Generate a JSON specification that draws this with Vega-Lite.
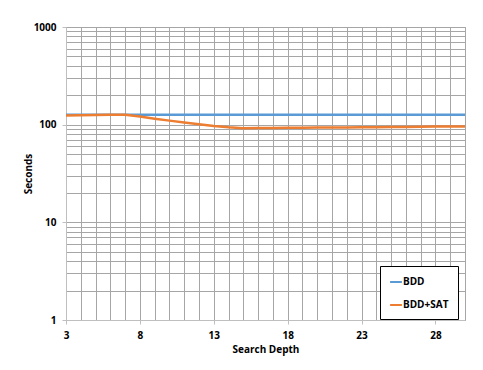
{
  "$schema": "https://vega.github.io/schema/vega-lite/v6.json",
  "width": 399,
  "height": 293,
  "autosize": {"type": "none"},
  "padding": {"left": 66, "top": 27, "right": 18, "bottom": 50},
  "background": "white",
  "config": {
    "view": {"stroke": "#a6a6a6", "strokeWidth": 1},
    "font": "Open Sans",
    "axis": {
      "labelFont": "Open Sans",
      "labelFontWeight": "bold",
      "labelFontSize": 10,
      "labelColor": "#000000",
      "titleFont": "Open Sans",
      "titleFontWeight": "bold",
      "titleFontSize": 10,
      "titleColor": "#000000",
      "gridColor": "#a6a6a6",
      "gridOpacity": 1,
      "gridWidth": 1,
      "domainColor": "#bfbfbf",
      "tickColor": "#bfbfbf"
    }
  },
  "data": {
    "values": [
      {"series": "BDD", "depth": 3, "seconds": 126},
      {"series": "BDD", "depth": 30, "seconds": 126},
      {"series": "BDD+SAT", "depth": 3, "seconds": 124},
      {"series": "BDD+SAT", "depth": 4, "seconds": 125},
      {"series": "BDD+SAT", "depth": 5, "seconds": 125.5},
      {"series": "BDD+SAT", "depth": 6, "seconds": 126},
      {"series": "BDD+SAT", "depth": 7, "seconds": 126.5},
      {"series": "BDD+SAT", "depth": 8, "seconds": 121},
      {"series": "BDD+SAT", "depth": 9, "seconds": 115},
      {"series": "BDD+SAT", "depth": 10, "seconds": 110},
      {"series": "BDD+SAT", "depth": 11, "seconds": 105},
      {"series": "BDD+SAT", "depth": 12, "seconds": 101},
      {"series": "BDD+SAT", "depth": 13, "seconds": 97},
      {"series": "BDD+SAT", "depth": 14, "seconds": 94},
      {"series": "BDD+SAT", "depth": 15, "seconds": 92},
      {"series": "BDD+SAT", "depth": 16, "seconds": 92.2},
      {"series": "BDD+SAT", "depth": 17, "seconds": 92.5},
      {"series": "BDD+SAT", "depth": 18, "seconds": 92.8},
      {"series": "BDD+SAT", "depth": 19, "seconds": 93},
      {"series": "BDD+SAT", "depth": 20, "seconds": 93.3},
      {"series": "BDD+SAT", "depth": 21, "seconds": 93.5},
      {"series": "BDD+SAT", "depth": 22, "seconds": 93.8},
      {"series": "BDD+SAT", "depth": 23, "seconds": 94},
      {"series": "BDD+SAT", "depth": 24, "seconds": 94.3},
      {"series": "BDD+SAT", "depth": 25, "seconds": 94.6},
      {"series": "BDD+SAT", "depth": 26, "seconds": 94.9},
      {"series": "BDD+SAT", "depth": 27, "seconds": 95.2},
      {"series": "BDD+SAT", "depth": 28, "seconds": 95.5},
      {"series": "BDD+SAT", "depth": 29, "seconds": 95.8},
      {"series": "BDD+SAT", "depth": 30, "seconds": 96}
    ]
  },
  "mark": {"type": "line", "strokeWidth": 2.5, "interpolate": "linear"},
  "encoding": {
    "x": {
      "field": "depth",
      "type": "quantitative",
      "scale": {"domain": [3, 30], "nice": false, "zero": false},
      "axis": {
        "title": "Search Depth",
        "titlePadding": 4,
        "values": [3,4,5,6,7,8,9,10,11,12,13,14,15,16,17,18,19,20,21,22,23,24,25,26,27,28,29,30],
        "labelExpr": "(datum.value - 3) % 5 == 0 && datum.value < 30 ? datum.label : ''",
        "tickSize": 4,
        "tickOpacity": {"condition": {"test": "(datum.value - 3) % 5 == 0", "value": 1}, "value": 0},
        "labelPadding": 6,
        "labelFlush": false,
        "labelOverlap": false
      }
    },
    "y": {
      "field": "seconds",
      "type": "quantitative",
      "scale": {"type": "log", "domain": [1, 1000], "nice": false},
      "axis": {
        "title": "Seconds",
        "titlePadding": 0,
        "values": [1,2,3,4,5,6,7,8,9,10,20,30,40,50,60,70,80,90,100,200,300,400,500,600,700,800,900,1000],
        "labelExpr": "datum.value == 1 || datum.value == 10 || datum.value == 100 || datum.value == 1000 ? datum.value : ''",
        "tickSize": 4,
        "tickOpacity": {"condition": {"test": "datum.value == 1 || datum.value == 10 || datum.value == 100 || datum.value == 1000", "value": 1}, "value": 0},
        "labelPadding": 6,
        "labelOverlap": false,
        "labelFlush": false
      }
    },
    "color": {
      "field": "series",
      "type": "nominal",
      "scale": {"domain": ["BDD", "BDD+SAT"], "range": ["#5b9bd5", "#ed7d31"]},
      "legend": {
        "title": null,
        "orient": "none",
        "legendX": 314,
        "legendY": 239,
        "fillColor": "white",
        "strokeColor": "#000000",
        "padding": 9,
        "rowPadding": 11,
        "symbolType": "stroke",
        "symbolSize": 140,
        "symbolStrokeWidth": 2,
        "labelFont": "Open Sans",
        "labelFontWeight": "bold",
        "labelFontSize": 10,
        "labelColor": "#000000",
        "labelOffset": 0
      }
    }
  }
}
